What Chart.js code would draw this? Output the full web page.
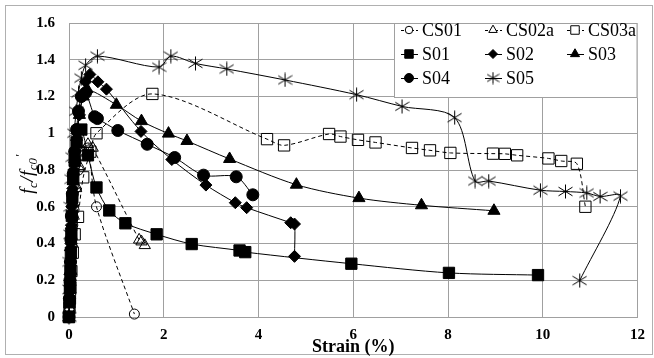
<!DOCTYPE html>
<html>
<head>
<meta charset="utf-8">
<script src="https://cdn.jsdelivr.net/npm/chart.js@4/dist/chart.umd.min.js"></script>
<style>
  html, body { margin: 0; padding: 0; background: #fff; }
  #wrap { width: 654px; height: 358px; position: relative; }
</style>
</head>
<body>
<div id="wrap"><canvas id="chart" width="654" height="358"></canvas></div>
<script>
// ====== DATA ======
const xTicks = [0, 2, 4, 6, 8, 10, 12];
const yTicks = [0, 0.2, 0.4, 0.6, 0.8, 1, 1.2, 1.4, 1.6];
const seriesNames = ["CS01", "CS02a", "CS03a", "S01", "S02", "S03", "S04", "S05"];

const cs01Strain = [0, 0.01, 0.02, 0.03, 0.04, 0.05, 0.06, 0.08, 0.1, 0.14, 0.2, 0.3, 0.4, 0.58, 1.38];
const cs01Ratio = [0, 0.05, 0.1, 0.15, 0.2, 0.3, 0.4, 0.5, 0.6, 0.7, 0.8, 0.88, 0.92, 0.6, 0.016];

const cs02aStrain = [0, 0.01, 0.02, 0.03, 0.05, 0.07, 0.1, 0.15, 0.22, 0.3, 0.4, 0.5, 1.48, 1.53, 1.6];
const cs02aRatio = [0, 0.05, 0.1, 0.15, 0.25, 0.4, 0.55, 0.7, 0.82, 0.9, 0.94, 0.92, 0.42, 0.41, 0.39];

const cs03aStrain = [0, 0.01, 0.02, 0.03, 0.05, 0.08, 0.12, 0.19, 0.3, 0.45, 0.58, 1.76, 4.18, 4.54, 5.49, 5.73, 6.1, 6.47, 7.24, 7.62, 8.05, 8.95, 9.2, 9.46, 10.12, 10.39, 10.72, 10.9];
const cs03aRatio = [0, 0.05, 0.1, 0.16, 0.25, 0.35, 0.45, 0.545, 0.76, 0.9, 1.0, 1.214, 0.968, 0.934, 0.996, 0.982, 0.964, 0.95, 0.92, 0.907, 0.893, 0.889, 0.888, 0.88, 0.863, 0.849, 0.834, 0.6];

const s01Strain = [0, 0.01, 0.02, 0.03, 0.04, 0.05, 0.06, 0.07, 0.09, 0.12, 0.16, 0.26, 0.4, 0.58, 0.85, 1.19, 1.85, 2.59, 3.6, 3.72, 5.96, 8.02, 9.9];
const s01Ratio = [0, 0.08, 0.16, 0.25, 0.35, 0.45, 0.55, 0.65, 0.75, 0.85, 0.95, 1.02, 0.88, 0.705, 0.58, 0.51, 0.45, 0.397, 0.362, 0.353, 0.29, 0.24, 0.228];

const s02Strain = [0, 0.01, 0.02, 0.03, 0.04, 0.05, 0.06, 0.08, 0.1, 0.13, 0.17, 0.22, 0.28, 0.35, 0.44, 0.61, 0.79, 1.52, 2.17, 2.89, 3.51, 3.75, 4.68, 4.76, 4.76];
const s02Ratio = [0, 0.1, 0.2, 0.3, 0.4, 0.5, 0.6, 0.7, 0.8, 0.9, 1.0, 1.1, 1.2, 1.28, 1.32, 1.28, 1.24, 1.01, 0.857, 0.718, 0.622, 0.595, 0.513, 0.506, 0.33];

const s03Strain = [0, 0.01, 0.02, 0.03, 0.05, 0.07, 0.09, 0.12, 0.16, 0.22, 0.3, 0.38, 1.0, 1.53, 2.1, 2.49, 3.39, 4.8, 6.12, 7.44, 8.97];
const s03Ratio = [0, 0.12, 0.25, 0.38, 0.5, 0.62, 0.74, 0.86, 0.98, 1.1, 1.2, 1.24, 1.155, 1.066, 0.998, 0.958, 0.86, 0.72, 0.647, 0.608, 0.578];

const s04Strain = [0, 0.01, 0.02, 0.03, 0.04, 0.05, 0.07, 0.09, 0.12, 0.16, 0.2, 0.26, 0.35, 0.54, 0.6, 1.03, 1.65, 2.23, 2.84, 3.53, 3.88];
const s04Ratio = [0, 0.1, 0.2, 0.3, 0.42, 0.55, 0.67, 0.78, 0.9, 1.02, 1.12, 1.2, 1.22, 1.09, 1.08, 1.015, 0.94, 0.868, 0.772, 0.763, 0.665];

const s05Strain = [0, 0.01, 0.02, 0.03, 0.04, 0.06, 0.08, 0.11, 0.15, 0.2, 0.26, 0.35, 0.6, 1.9, 2.15, 2.67, 3.33, 4.56, 6.07, 7.03, 8.14, 8.57, 8.86, 9.95, 10.48, 10.93, 11.21, 11.64, 10.78];
const s05Ratio = [0, 0.15, 0.3, 0.45, 0.6, 0.75, 0.87, 1.0, 1.12, 1.22, 1.3, 1.37, 1.42, 1.36, 1.42, 1.38, 1.35, 1.29, 1.21, 1.146, 1.085, 0.74, 0.74, 0.69, 0.683, 0.675, 0.656, 0.658, 0.198];

const allStrain = [cs01Strain, cs02aStrain, cs03aStrain, s01Strain, s02Strain, s03Strain, s04Strain, s05Strain];
const allRatio = [cs01Ratio, cs02aRatio, cs03aRatio, s01Ratio, s02Ratio, s03Ratio, s04Ratio, s05Ratio];

// ====== MARKERS ======
function makeStar(size) {
  const c = document.createElement("canvas");
  c.width = size; c.height = size;
  const g = c.getContext("2d");
  const m = size / 2, r = size / 2 - 0.5;
  g.strokeStyle = "#000";
  g.lineWidth = 1;
  g.beginPath();
  g.moveTo(m, m - r); g.lineTo(m, m + r);
  g.moveTo(m - r, m - r * 0.62); g.lineTo(m + r, m + r * 0.62);
  g.moveTo(m - r, m + r * 0.62); g.lineTo(m + r, m - r * 0.62);
  g.stroke();
  return c;
}
const starBig = makeStar(15);
const starSmall = makeStar(13);

// style per series (same order as seriesNames)
const styles = [
  { ps: "circle", r: 5, fill: false, dash: true },
  { ps: "triangle", r: 6.5, fill: false, dash: true },
  { ps: "rect", r: 8, fill: false, dash: true },
  { ps: "rect", r: 8, fill: true, dash: false },
  { ps: "rectRot", r: 6, fill: true, dash: false },
  { ps: "triangle", r: 7, fill: true, dash: false },
  { ps: "circle", r: 6, fill: true, dash: false },
  { ps: starBig, r: 7, fill: false, dash: false },
];

const datasets = seriesNames.map((name, i) => ({
  label: name,
  data: allStrain[i].map((x, k) => ({ x: x, y: allRatio[i][k] })),
  showLine: true,
  borderColor: "#000",
  borderWidth: 1,
  borderDash: styles[i].dash ? [4, 3] : [],
  tension: 0.3,
  pointStyle: styles[i].ps,
  pointRadius: styles[i].r,
  pointBorderColor: "#000",
  pointBorderWidth: 1,
  pointBackgroundColor: styles[i].fill ? "#000" : "rgba(255,255,255,0)",
  clip: false,
  order: seriesNames.length - i,
}));

// ====== PLUGINS ======
function drawMark(ctx, st, x, y, scale) {
  const r = st.r * scale;
  ctx.save();
  ctx.setLineDash([]);
  ctx.lineWidth = 1;
  ctx.strokeStyle = "#000";
  ctx.fillStyle = st.fill ? "#000" : "#fff";
  ctx.beginPath();
  if (st.ps === "circle") {
    ctx.arc(x, y, r, 0, Math.PI * 2);
  } else if (st.ps === "rect") {
    const s = r * Math.SQRT1_2;
    ctx.rect(x - s, y - s, 2 * s, 2 * s);
  } else if (st.ps === "rectRot") {
    ctx.moveTo(x - r, y); ctx.lineTo(x, y - r); ctx.lineTo(x + r, y); ctx.lineTo(x, y + r); ctx.closePath();
  } else if (st.ps === "triangle") {
    ctx.moveTo(x, y - r); ctx.lineTo(x + r * 0.866, y + r * 0.5); ctx.lineTo(x - r * 0.866, y + r * 0.5); ctx.closePath();
  } else {
    ctx.drawImage(starSmall, x - starSmall.width / 2, y - starSmall.height / 2);
    ctx.restore();
    return;
  }
  ctx.fill();
  ctx.stroke();
  ctx.restore();
}

const framePlugin = {
  id: "frame",
  beforeDraw(chart) {
    const ctx = chart.ctx;
    ctx.save();
    ctx.fillStyle = "#fff";
    ctx.fillRect(0, 0, chart.width, chart.height);
    ctx.strokeStyle = "#b0b0b0";
    ctx.lineWidth = 1;
    ctx.strokeRect(5.5, 5.5, 647, 349);
    ctx.restore();
  },
  afterDraw(chart) {
    const ctx = chart.ctx;
    const area = chart.chartArea;

    // y axis title: f_c / f_c0'
    ctx.save();
    ctx.translate(27, (area.top + area.bottom) / 2 + 4);
    ctx.rotate(-Math.PI / 2);
    ctx.fillStyle = "#000";
    ctx.textBaseline = "alphabetic";
    const parts = [["f", 19, 0], ["c", 13, 4], ["/", 19, 0], ["f", 19, 0], ["c0", 13, 4], ["\u2032", 13, -9]];
    let total = 0;
    parts.forEach((p) => {
      ctx.font = "italic " + p[1] + "px 'Liberation Serif'";
      total += ctx.measureText(p[0]).width + 0.5;
    });
    let px = -total / 2;
    parts.forEach((p) => {
      ctx.font = "italic " + p[1] + "px 'Liberation Serif'";
      ctx.fillText(p[0], px, 6 + p[2]);
      px += ctx.measureText(p[0]).width + 0.5;
    });
    ctx.restore();

    // legend box
    const lx = 394, ly = area.top, lw = area.right - 394, lh = 75;
    ctx.save();
    ctx.fillStyle = "#fff";
    ctx.fillRect(lx, ly, lw, lh);
    ctx.strokeStyle = "#a0a0a0";
    ctx.lineWidth = 1;
    ctx.strokeRect(lx + 0.5, ly + 0.5, lw - 1, lh - 1);
    ctx.font = "18px 'Liberation Serif'";
    ctx.textBaseline = "middle";
    ctx.fillStyle = "#000";
    const colX = [409, 493, 575];
    const rowY = [30, 54, 78];
    seriesNames.forEach((name, i) => {
      const mx = colX[i % 3], my = rowY[Math.floor(i / 3)];
      ctx.strokeStyle = "#000";
      ctx.lineWidth = 1;
      ctx.setLineDash(styles[i].dash ? [3, 2] : []);
      ctx.beginPath();
      ctx.moveTo(mx - 8, my + 0.5);
      ctx.lineTo(mx + 9, my + 0.5);
      ctx.stroke();
      ctx.setLineDash([]);
      drawMark(ctx, styles[i], mx, my, 0.75);
      ctx.fillText(name, mx + 13, my + 1);
    });
    ctx.restore();
  },
};

// ====== CHART ======
new Chart(document.getElementById("chart"), {
  type: "scatter",
  data: { datasets: datasets },
  options: {
    responsive: false,
    animation: false,
    layout: { padding: { top: 18, right: 10, left: 0, bottom: 0 } },
    plugins: { legend: { display: false }, tooltip: { enabled: false } },
    scales: {
      x: {
        type: "linear",
        min: 0,
        max: 12,
        afterFit: (s) => { s.height = 41; },
        afterBuildTicks: (s) => { s.ticks = xTicks.map((v) => ({ value: v })); },
        ticks: {
          padding: 9,
          color: "#000",
          font: { family: "'Liberation Serif'", size: 15, weight: "bold" },
          callback: (v) => String(v),
        },
        grid: { color: "#a0a0a0", lineWidth: 1, drawTicks: false },
        border: { color: "#a0a0a0" },
        title: {
          display: true,
          text: "Strain (%)",
          color: "#000",
          font: { family: "'Liberation Serif'", size: 18, weight: "bold" },
          padding: { top: 0, bottom: 0 },
        },
      },
      y: {
        type: "linear",
        min: 0,
        max: 1.6,
        afterFit: (s) => { s.width = 69; },
        afterBuildTicks: (s) => { s.ticks = yTicks.map((v) => ({ value: v })); },
        ticks: {
          padding: 14,
          color: "#000",
          font: { family: "'Liberation Serif'", size: 15, weight: "bold" },
          callback: (v) => String(v),
        },
        grid: { color: "#a0a0a0", lineWidth: 1, drawTicks: false },
        border: { color: "#a0a0a0" },
      },
    },
  },
  plugins: [framePlugin],
});
</script>
</body>
</html>
